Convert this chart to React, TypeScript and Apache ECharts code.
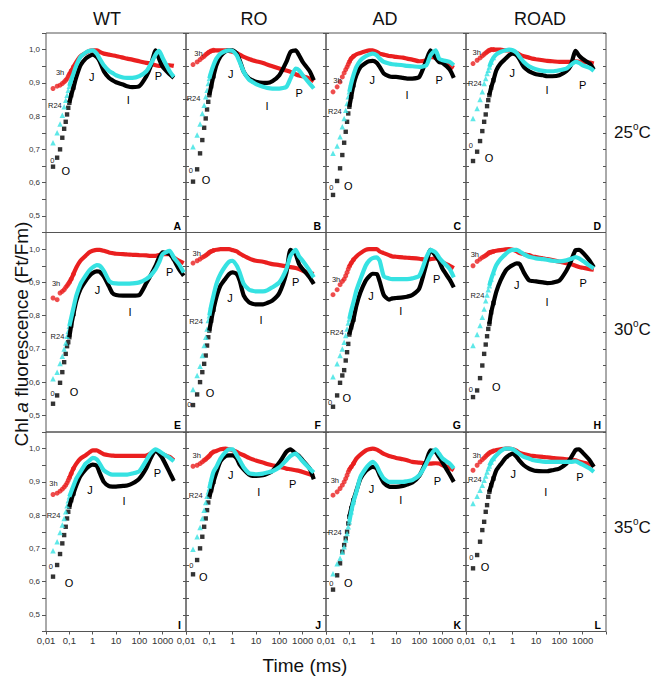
import React, { useEffect, useRef } from "react";
import * as echarts from "echarts";

// Time points (ms)
const T = [0.02, 0.03, 0.04, 0.05, 0.06, 0.07, 0.08, 0.09, 0.1, 0.12, 0.15, 0.2, 0.3, 0.5, 0.7, 1, 1.5, 2, 3, 5, 7, 10, 20, 30, 50, 100, 200, 300, 500, 700, 1000, 2000, 3000, 5000, 8000];

const GENOTYPES = ["WT", "RO", "AD", "ROAD"];
const TEMPS = ["25", "30", "35"];
const X_TICKS = [0.01, 0.1, 1, 10, 100, 1000];
const X_TICK_LABELS = ["0,01", "0,1", "1", "10", "100", "1000"];

// ---- 25 °C ----
const A_ctrl = [0.648,0.675,0.70,0.735,0.762,0.783,0.805,0.825,0.84,0.863,0.886,0.918,0.953,0.973,0.98,0.985,0.978,0.965,0.935,0.915,0.908,0.902,0.895,0.89,0.887,0.89,0.92,0.948,0.998,0.973,0.948,0.926,0.915];
const A_r24 = [0.72,0.75,0.776,0.803,0.828,0.848,0.863,0.878,0.89,0.908,0.928,0.953,0.978,0.991,0.996,0.998,0.988,0.973,0.953,0.936,0.93,0.923,0.916,0.915,0.915,0.92,0.935,0.955,0.985,0.996,0.975,0.935,0.918];
const A_3h = [0.883,0.89,0.893,0.898,0.903,0.908,0.913,0.92,0.926,0.936,0.948,0.963,0.98,0.99,0.996,0.998,0.998,0.993,0.988,0.985,0.983,0.981,0.976,0.973,0.97,0.965,0.96,0.958,0.953,0.951,0.953,0.953,0.951];

const B_ctrl = [0.603,0.64,0.688,0.728,0.765,0.793,0.82,0.843,0.863,0.89,0.92,0.953,0.98,0.995,0.998,0.998,0.988,0.968,0.933,0.913,0.908,0.903,0.9,0.9,0.905,0.923,0.963,0.993,0.998,0.983,0.963,0.935,0.908];
const B_r24 = [0.708,0.743,0.776,0.808,0.833,0.858,0.878,0.898,0.913,0.933,0.953,0.973,0.988,0.996,0.998,0.996,0.983,0.963,0.933,0.91,0.903,0.896,0.888,0.885,0.883,0.883,0.888,0.913,0.943,0.938,0.923,0.898,0.883];
const B_3h = [0.955,0.963,0.97,0.976,0.98,0.985,0.988,0.991,0.993,0.996,0.998,0.998,0.998,0.998,0.996,0.993,0.99,0.985,0.978,0.972,0.968,0.965,0.96,0.955,0.95,0.943,0.937,0.933,0.926,0.922,0.92,0.913,0.905];

const C_ctrl = [0.563,0.605,0.643,0.683,0.72,0.753,0.783,0.808,0.828,0.858,0.893,0.923,0.948,0.96,0.965,0.966,0.96,0.948,0.928,0.92,0.918,0.918,0.915,0.913,0.913,0.918,0.968,0.998,0.975,0.963,0.96,0.94,0.915];
const C_r24 = [0.688,0.71,0.738,0.768,0.793,0.818,0.838,0.858,0.873,0.898,0.923,0.948,0.968,0.98,0.985,0.988,0.983,0.973,0.963,0.958,0.956,0.955,0.953,0.951,0.95,0.948,0.953,0.983,0.998,0.973,0.968,0.963,0.953];
const C_3h = [0.873,0.888,0.903,0.918,0.93,0.94,0.948,0.956,0.963,0.973,0.98,0.986,0.99,0.995,0.998,0.998,0.993,0.988,0.985,0.981,0.98,0.978,0.976,0.973,0.97,0.965,0.968,0.978,0.975,0.968,0.962,0.952,0.945];

const D_ctrl = [0.665,0.693,0.725,0.755,0.783,0.805,0.83,0.848,0.863,0.886,0.908,0.938,0.958,0.973,0.983,0.988,0.983,0.97,0.948,0.935,0.93,0.926,0.923,0.92,0.92,0.923,0.935,0.95,0.996,0.982,0.972,0.958,0.94];
const D_r24 = [0.793,0.823,0.85,0.873,0.898,0.913,0.928,0.938,0.948,0.963,0.976,0.986,0.993,0.998,1.0,0.998,0.99,0.978,0.963,0.95,0.945,0.941,0.936,0.935,0.935,0.938,0.943,0.953,0.963,0.96,0.953,0.945,0.936];
const D_3h = [0.958,0.968,0.975,0.981,0.986,0.99,0.993,0.996,0.998,1.0,1.0,1.0,1.0,0.998,0.998,0.996,0.99,0.985,0.98,0.976,0.973,0.971,0.968,0.966,0.965,0.963,0.963,0.963,0.965,0.964,0.963,0.961,0.958];

// ---- 30 °C ----
const E_ctrl = [0.535,0.56,0.598,0.63,0.66,0.685,0.708,0.72,0.735,0.77,0.805,0.845,0.88,0.905,0.918,0.928,0.933,0.932,0.918,0.888,0.868,0.862,0.86,0.86,0.86,0.862,0.898,0.92,0.95,0.975,0.99,0.985,0.968,0.94,0.92];
const E_r24 = [0.61,0.63,0.656,0.678,0.70,0.718,0.738,0.753,0.768,0.793,0.823,0.86,0.895,0.92,0.935,0.945,0.952,0.95,0.935,0.905,0.898,0.897,0.896,0.896,0.897,0.9,0.91,0.92,0.94,0.96,0.985,0.995,0.975,0.955,0.93];
const E_3h = [0.853,0.848,0.868,0.873,0.878,0.885,0.89,0.895,0.90,0.91,0.925,0.945,0.965,0.98,0.99,0.995,0.998,0.998,0.995,0.99,0.988,0.986,0.985,0.984,0.983,0.982,0.981,0.98,0.98,0.982,0.985,0.985,0.975,0.965,0.958];

const F_ctrl = [0.531,0.563,0.60,0.63,0.655,0.68,0.71,0.735,0.755,0.785,0.818,0.855,0.89,0.912,0.925,0.93,0.925,0.905,0.86,0.84,0.836,0.834,0.834,0.838,0.845,0.868,0.928,0.998,0.985,0.955,0.94,0.915,0.895];
const F_r24 = [0.578,0.62,0.648,0.68,0.71,0.735,0.76,0.785,0.80,0.83,0.86,0.895,0.925,0.95,0.962,0.965,0.95,0.93,0.895,0.878,0.875,0.873,0.873,0.876,0.885,0.9,0.94,0.98,0.998,0.978,0.965,0.935,0.915];
const F_3h = [0.958,0.965,0.97,0.975,0.978,0.981,0.984,0.987,0.99,0.993,0.996,0.998,1.0,1.0,1.0,0.997,0.993,0.987,0.98,0.972,0.968,0.965,0.962,0.959,0.955,0.952,0.948,0.946,0.943,0.94,0.935,0.928,0.925];

const G_ctrl = [0.526,0.56,0.598,0.62,0.636,0.665,0.69,0.715,0.743,0.765,0.788,0.83,0.87,0.905,0.918,0.926,0.925,0.903,0.862,0.848,0.852,0.853,0.855,0.857,0.862,0.882,0.955,0.998,0.98,0.965,0.94,0.908,0.885];
const G_r24 = [0.616,0.655,0.68,0.70,0.72,0.74,0.76,0.778,0.79,0.815,0.84,0.875,0.91,0.95,0.965,0.973,0.975,0.965,0.918,0.912,0.91,0.91,0.91,0.91,0.912,0.92,0.975,0.998,0.99,0.975,0.962,0.94,0.915];
const G_3h = [0.863,0.878,0.893,0.903,0.91,0.92,0.93,0.94,0.948,0.958,0.968,0.978,0.988,0.998,1.0,1.0,1.0,0.993,0.988,0.982,0.978,0.977,0.975,0.974,0.973,0.971,0.968,0.97,0.972,0.968,0.96,0.95,0.943];

const H_ctrl = [0.555,0.575,0.612,0.65,0.685,0.713,0.738,0.76,0.775,0.81,0.838,0.872,0.905,0.935,0.945,0.952,0.957,0.955,0.93,0.906,0.904,0.903,0.9,0.898,0.899,0.905,0.935,0.96,0.997,0.998,0.99,0.965,0.945];
const H_r24 = [0.71,0.743,0.77,0.795,0.82,0.845,0.862,0.878,0.89,0.91,0.93,0.952,0.97,0.985,0.994,0.998,0.998,0.993,0.985,0.977,0.975,0.972,0.97,0.968,0.965,0.963,0.966,0.97,0.976,0.972,0.965,0.95,0.942];
const H_3h = [0.95,0.963,0.97,0.975,0.978,0.981,0.984,0.987,0.99,0.991,0.993,0.995,0.997,0.999,1.0,0.998,0.993,0.988,0.985,0.982,0.978,0.976,0.972,0.97,0.967,0.962,0.958,0.955,0.95,0.946,0.944,0.94,0.938];

// ---- 35 °C ----
const I_ctrl = [0.615,0.65,0.683,0.715,0.74,0.765,0.79,0.81,0.825,0.845,0.865,0.89,0.918,0.938,0.947,0.952,0.948,0.927,0.9,0.887,0.886,0.886,0.888,0.889,0.895,0.91,0.942,0.97,0.995,0.985,0.97,0.928,0.903];
const I_r24 = [0.693,0.72,0.748,0.77,0.79,0.81,0.828,0.843,0.855,0.87,0.888,0.91,0.93,0.955,0.963,0.972,0.968,0.955,0.935,0.925,0.922,0.922,0.922,0.922,0.925,0.932,0.965,0.985,0.998,0.993,0.985,0.972,0.962];
const I_3h = [0.862,0.866,0.872,0.878,0.884,0.89,0.897,0.905,0.912,0.925,0.94,0.955,0.97,0.98,0.988,0.995,0.995,0.99,0.983,0.98,0.979,0.978,0.978,0.978,0.978,0.978,0.979,0.985,0.995,0.988,0.983,0.975,0.965];

const J_ctrl = [0.622,0.665,0.70,0.735,0.765,0.79,0.815,0.838,0.855,0.875,0.9,0.928,0.962,0.978,0.98,0.98,0.97,0.952,0.937,0.922,0.918,0.918,0.92,0.924,0.932,0.958,0.99,0.998,0.985,0.978,0.965,0.94,0.908];
const J_r24 = [0.697,0.735,0.763,0.79,0.815,0.838,0.857,0.87,0.88,0.905,0.93,0.945,0.97,0.99,0.998,0.998,0.98,0.965,0.943,0.926,0.924,0.923,0.925,0.928,0.932,0.944,0.965,0.978,0.985,0.975,0.962,0.94,0.928];
const J_3h = [0.947,0.95,0.955,0.96,0.965,0.968,0.972,0.975,0.978,0.985,0.99,0.993,0.998,1.0,0.998,0.995,0.99,0.985,0.98,0.972,0.968,0.964,0.958,0.954,0.95,0.945,0.94,0.938,0.935,0.933,0.93,0.923,0.918];

const K_ctrl = [0.576,0.619,0.655,0.69,0.71,0.73,0.75,0.775,0.795,0.82,0.845,0.873,0.91,0.932,0.94,0.945,0.94,0.92,0.897,0.886,0.885,0.885,0.888,0.892,0.898,0.918,0.963,0.995,0.99,0.975,0.958,0.922,0.9];
const K_r24 = [0.624,0.654,0.67,0.688,0.705,0.725,0.745,0.765,0.78,0.81,0.84,0.87,0.915,0.94,0.952,0.96,0.948,0.93,0.91,0.9,0.9,0.9,0.9,0.902,0.905,0.92,0.955,0.98,0.998,0.985,0.97,0.955,0.94];
const K_3h = [0.86,0.87,0.88,0.89,0.9,0.91,0.92,0.93,0.937,0.945,0.955,0.97,0.982,0.994,0.998,1.0,0.997,0.992,0.984,0.978,0.975,0.972,0.968,0.965,0.96,0.958,0.955,0.955,0.956,0.955,0.95,0.942,0.935];

const L_ctrl = [0.64,0.68,0.72,0.755,0.78,0.81,0.83,0.855,0.87,0.89,0.91,0.935,0.952,0.972,0.98,0.985,0.975,0.963,0.95,0.94,0.936,0.933,0.932,0.932,0.935,0.94,0.955,0.97,0.996,0.998,0.988,0.965,0.945];
const L_r24 = [0.835,0.857,0.875,0.89,0.905,0.918,0.93,0.94,0.948,0.96,0.97,0.98,0.992,1.0,1.0,0.998,0.99,0.983,0.975,0.97,0.966,0.964,0.961,0.96,0.96,0.96,0.96,0.96,0.962,0.957,0.952,0.94,0.93];
const L_3h = [0.935,0.95,0.96,0.967,0.972,0.977,0.981,0.984,0.987,0.99,0.993,0.996,0.998,1.0,1.0,0.998,0.993,0.987,0.984,0.98,0.978,0.977,0.975,0.974,0.972,0.97,0.968,0.967,0.965,0.961,0.958,0.953,0.948];

// In-panel annotations: [text, time (ms), Ft/Fm]
const A_notes = [["3h",0.04,0.93],["R24",0.024,0.833],["0",0.0185,0.666],["O",0.07,0.636],["J",0.91,0.918],["I",34,0.85],["P",650,0.92]];
const B_notes = [["3h",0.034,0.988],["R24",0.021,0.853],["0",0.016,0.636],["O",0.072,0.608],["J",0.82,0.928],["I",30,0.83],["P",700,0.87]];
const C_notes = [["3h",0.031,0.908],["R24",0.024,0.813],["0",0.017,0.586],["O",0.09,0.591],["J",0.97,0.908],["I",30,0.863],["P",700,0.91]];
const D_notes = [["3h",0.029,0.99],["R24",0.024,0.898],["0",0.016,0.711],["O",0.097,0.673],["J",0.97,0.93],["I",30,0.878],["P",1000,0.893]];
const E_notes = [["3h",0.027,0.896],["R24",0.031,0.738],["0",0.019,0.565],["O",0.16,0.571],["J",1.6,0.876],["I",40,0.81],["P",2000,0.93]];
const F_notes = [["3h",0.029,0.988],["R24",0.027,0.783],["0",0.014,0.533],["O",0.107,0.566],["J",0.77,0.853],["I",16.5,0.788],["P",500,0.9]];
const G_notes = [["3h",0.027,0.91],["R24",0.029,0.75],["0",0.015,0.54],["O",0.077,0.553],["J",0.85,0.858],["I",16,0.813],["P",550,0.91]];
const H_notes = [["3h",0.024,0.985],["R24",0.031,0.86],["0",0.016,0.578],["O",0.2,0.585],["J",1.5,0.893],["I",30,0.84],["P",1050,0.898]];
const I_notes = [["3h",0.021,0.895],["R24",0.021,0.8],["0",0.016,0.644],["O",0.097,0.597],["J",0.77,0.877],["I",22,0.842],["P",600,0.927]];
const J_notes = [["3h",0.029,0.98],["R24",0.026,0.86],["0",0.017,0.647],["O",0.055,0.615],["J",0.82,0.92],["I",13,0.87],["P",370,0.895]];
const K_notes = [["3h",0.024,0.903],["R24",0.024,0.747],["0",0.017,0.595],["O",0.09,0.596],["J",0.9,0.88],["I",16,0.845],["P",600,0.902]];
const L_notes = [["3h",0.029,0.98],["R24",0.024,0.908],["0",0.017,0.672],["O",0.065,0.645],["J",1.06,0.925],["I",26,0.87],["P",770,0.915]];

const PANELS = [
  { letter: "A", ctrl: A_ctrl, r24: A_r24, h3: A_3h, notes: A_notes },
  { letter: "B", ctrl: B_ctrl, r24: B_r24, h3: B_3h, notes: B_notes },
  { letter: "C", ctrl: C_ctrl, r24: C_r24, h3: C_3h, notes: C_notes },
  { letter: "D", ctrl: D_ctrl, r24: D_r24, h3: D_3h, notes: D_notes },
  { letter: "E", ctrl: E_ctrl, r24: E_r24, h3: E_3h, notes: E_notes },
  { letter: "F", ctrl: F_ctrl, r24: F_r24, h3: F_3h, notes: F_notes },
  { letter: "G", ctrl: G_ctrl, r24: G_r24, h3: G_3h, notes: G_notes },
  { letter: "H", ctrl: H_ctrl, r24: H_r24, h3: H_3h, notes: H_notes },
  { letter: "I", ctrl: I_ctrl, r24: I_r24, h3: I_3h, notes: I_notes },
  { letter: "J", ctrl: J_ctrl, r24: J_r24, h3: J_3h, notes: J_notes },
  { letter: "K", ctrl: K_ctrl, r24: K_r24, h3: K_3h, notes: K_notes },
  { letter: "L", ctrl: L_ctrl, r24: L_r24, h3: L_3h, notes: L_notes },
];

const FONT = '"Liberation Sans", Arial, sans-serif';
const RED = "#ea1f1f";
const CYAN = "#36e2e2";
const BLACK = "#000000";
const BORDER = "#555555";
const BIG_NOTES = ["O", "J", "I", "P"];

const LEFT0 = 46;
const TOP0 = 33;
const PW = 140;
const PH = 199.5;
// tiny rotation so small glyphs are rasterised in grey-scale (no colour fringes)
const TILT = 0.0002;

function xLabel(v: number): string {
  const e = Math.round(Math.log10(v));
  const idx = X_TICKS.findIndex((t) => Math.round(Math.log10(t)) === e);
  return idx >= 0 ? X_TICK_LABELS[idx] : "";
}

function yLabel(v: number): string {
  const k = Math.round(v * 100);
  if (k % 10 !== 0 || k < 50 || k > 100) return "";
  return (k / 100).toFixed(1).replace(".", ",");
}

function baseGraphics(): any[] {
  const graphic: any[] = [];
  PANELS.forEach((p, i) => {
    const r = Math.floor(i / 4);
    const c = i % 4;
    const left = LEFT0 + c * PW;
    const top = TOP0 + r * PH;
    graphic.push({
      type: "text", x: left + PW - 5, y: top + PH - 7, rotation: TILT,
      style: { text: p.letter, font: `bold 10.5px ${FONT}`, fill: "#000", align: "right", verticalAlign: "middle" },
    });
  });
  const titleX = [107, 254, 385, 540];
  GENOTYPES.forEach((g, c) => {
    graphic.push({ type: "text", x: titleX[c], y: 19, style: { text: g, font: `18px ${FONT}`, fill: "#111", align: "center", verticalAlign: "middle" } });
  });
  const rowY = [132, 329, 527];
  TEMPS.forEach((t, r) => {
    const x0 = 614;
    graphic.push({ type: "text", x: x0, y: rowY[r], style: { text: t, font: `17px ${FONT}`, fill: "#111", align: "left", verticalAlign: "middle" } });
    graphic.push({ type: "text", x: x0 + 19, y: rowY[r] - 6, style: { text: "o", font: `10px ${FONT}`, fill: "#111", align: "left", verticalAlign: "middle" } });
    graphic.push({ type: "text", x: x0 + 24.5, y: rowY[r], style: { text: "C", font: `17px ${FONT}`, fill: "#111", align: "left", verticalAlign: "middle" } });
  });
  graphic.push({
    type: "text", x: 21, y: 334, rotation: Math.PI / 2,
    style: {
      text: "Chl {i|a} fluorescence (Ft/Fm)", font: `19px ${FONT}`, fill: "#111", align: "center", verticalAlign: "middle",
      rich: { i: { fontStyle: "italic", fontSize: 19, fontFamily: FONT, fill: "#111" } },
    },
  });
  graphic.push({ type: "text", x: 305, y: 665, style: { text: "Time (ms)", font: `19px ${FONT}`, fill: "#111", align: "center", verticalAlign: "middle" } });
  return graphic;
}

function buildOption() {
  const grid: any[] = [];
  const xAxis: any[] = [];
  const yAxis: any[] = [];
  const series: any[] = [];

  PANELS.forEach((p, i) => {
    const r = Math.floor(i / 4);
    const c = i % 4;
    const left = LEFT0 + c * PW;
    const top = TOP0 + r * PH;
    grid.push({ left, top, width: PW, height: PH, show: true, borderColor: BORDER, borderWidth: 1, backgroundColor: "transparent", containLabel: false });
    xAxis.push({
      type: "log", logBase: 10, gridIndex: i, min: 0.01, max: 10000, splitNumber: 6,
      axisLine: { show: false }, splitLine: { show: false },
      axisTick: { show: r === 2, length: 3, lineStyle: { color: BORDER } },
      axisLabel: { show: r === 2, formatter: xLabel, fontSize: 9.5, color: "#333", fontFamily: FONT, margin: 4 },
    });
    const yBase = { type: "value", gridIndex: i, min: 0.45, max: 1.05, interval: 0.05, splitLine: { show: false }, axisLine: { show: false } };
    yAxis.push({
      ...yBase, position: "left",
      axisTick: { show: true, inside: c !== 0, length: c === 0 ? 4 : 3, lineStyle: { color: BORDER } },
      axisLabel: { show: c === 0, formatter: yLabel, fontSize: 8, color: "#333", fontFamily: FONT, margin: 6 },
    });
    yAxis.push({
      ...yBase, position: "right",
      axisTick: { show: true, inside: true, length: 3, lineStyle: { color: BORDER } },
      axisLabel: { show: false },
    });

    const curves = [
      { name: "3h", vals: p.h3, color: RED, symbol: "circle", size: 5 },
      { name: "0", vals: p.ctrl, color: BLACK, symbol: "rect", size: 4.4 },
      { name: "R24", vals: p.r24, color: CYAN, symbol: "triangle", size: 5.5 },
    ];
    curves.forEach((cv) => {
      const pts = cv.vals.map((v, k) => [T[k], v]);
      series.push({
        type: "scatter", name: cv.name, xAxisIndex: i, yAxisIndex: 2 * i, data: pts.slice(0, 11),
        symbol: cv.symbol, symbolSize: cv.size, itemStyle: { color: cv.color }, silent: true,
      });
      series.push({
        type: "line", name: cv.name, xAxisIndex: i, yAxisIndex: 2 * i, data: pts.slice(8),
        showSymbol: false, smooth: 0.2, lineStyle: { width: 4.2, color: cv.color }, itemStyle: { color: cv.color }, silent: true,
      });
    });
  });

  return { animation: false, textStyle: { fontFamily: FONT }, grid, xAxis, yAxis, series, graphic: baseGraphics() };
}

export default function App() {
  const ref = useRef<HTMLDivElement>(null);
  useEffect(() => {
    if (!ref.current) return;
    const chart = echarts.init(ref.current, undefined, { renderer: "svg" });
    chart.setOption(buildOption() as any);
    // Place the in-panel annotations through each panel's own scales.
    const notes: any[] = [];
    PANELS.forEach((p, i) => {
      p.notes.forEach((n: any) => {
        const pt = chart.convertToPixel({ xAxisIndex: i, yAxisIndex: 2 * i } as any, [n[1], n[2]]) as number[];
        if (!pt) return;
        const big = BIG_NOTES.includes(n[0]);
        notes.push({
          type: "text", x: pt[0], y: pt[1], rotation: TILT, silent: true, z: 10,
          style: { text: n[0], font: `${big ? 11 : 7.5}px ${FONT}`, fill: big ? "#000000" : "#222222", align: "center", verticalAlign: "middle" },
        });
      });
    });
    chart.setOption({ graphic: [...baseGraphics(), ...notes] } as any);
    return () => chart.dispose();
  }, []);
  return <div ref={ref} style={{ position: "absolute", left: 0, top: 0, width: 665, height: 682, background: "#fff" }} />;
}
